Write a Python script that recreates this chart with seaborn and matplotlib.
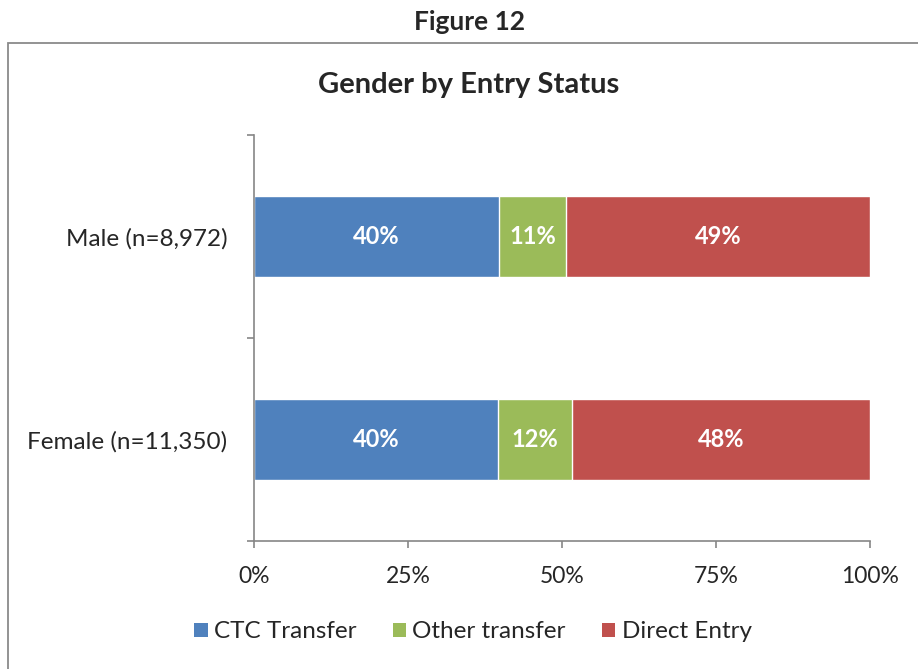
import matplotlib
matplotlib.use("Agg")
import matplotlib.pyplot as plt
import seaborn as sns
import pandas as pd
from matplotlib.patches import Patch, Rectangle

# data (percent of each gender)
groups = ["Male (n=8,972)", "Female (n=11,350)"]
ctc_transfer = [39.8, 39.6]
other_transfer = [10.8, 12.0]
direct_entry = [49.4, 48.4]
series_names = ["CTC Transfer", "Other transfer", "Direct Entry"]
x_ticks = [0, 0.25, 0.5, 0.75, 1.0]
x_tick_labels = ["0%", "25%", "50%", "75%", "100%"]

colors = ["#4F81BD", "#9BBB59", "#C0504D"]
axis_grey = "#868686"

sns.set_theme(style="white")
plt.rcParams['font.family'] = ['Lato', 'DejaVu Sans']

df = pd.DataFrame({
    "group": groups,
    "ctc": ctc_transfer,
    "other": other_transfer,
    "direct": direct_entry,
})
df["end_ctc"] = df["ctc"] / 100
df["end_other"] = (df["ctc"] + df["other"]) / 100
df["end_direct"] = (df["ctc"] + df["other"] + df["direct"]) / 100

fig = plt.figure(figsize=(9.18, 6.69), dpi=100)
ax = fig.add_axes([254 / 918, 1 - 541 / 669, (870 - 254) / 918, (541 - 135) / 669])

# stacked bars by over-drawing cumulative totals, back to front
for col, c in zip(["end_direct", "end_other", "end_ctc"], colors[::-1]):
    sns.barplot(data=df, x=col, y="group", orient="h", color=c, saturation=1,
                width=0.4, edgecolor="white", linewidth=1, ax=ax)

# value labels in the middle of each segment
for i in range(len(groups)):
    start = 0.0
    for vals in (ctc_transfer, other_transfer, direct_entry):
        v = vals[i] / 100
        ax.text(start + v / 2, i, f"{round(vals[i])}%", ha="center", va="center",
                color="white", fontsize=17, fontweight="bold")
        start += v

ax.set_xlim(0, 1)
ax.set_ylim(1.5, -0.5)
ax.set_xticks(x_ticks)
ax.set_xticklabels(x_tick_labels)
ax.set_xlabel("")
ax.set_ylabel("")
ax.set_yticks([-0.5, 0.5, 1.5], minor=True)

for side in ["top", "right"]:
    ax.spines[side].set_visible(False)
for side in ["left", "bottom"]:
    ax.spines[side].set_color(axis_grey)
    ax.spines[side].set_linewidth(1.2)

ax.tick_params(axis="x", which="major", direction="out", length=5, width=1.2,
               color=axis_grey, labelsize=16.5, pad=13, bottom=True)
ax.tick_params(axis="y", which="major", length=0, labelsize=17.5, pad=19)
ax.tick_params(axis="y", which="minor", direction="out", length=5, width=1.2,
               color=axis_grey, left=True)

# legend below the plot
handles = [Patch(facecolor=c, edgecolor="none") for c in colors]
fig.legend(handles, series_names, loc="center", bbox_to_anchor=(473 / 918, 1 - 632 / 669),
           ncol=3, frameon=False, fontsize=17.5, handlelength=0.55, handleheight=0.55,
           handletextpad=0.25, columnspacing=1.5)

# chart frame and titles
fig.patches.append(Rectangle((8 / 918, -0.05), 1.2, 1 - 43 / 669 + 0.05,
                             transform=fig.transFigure, fill=False,
                             edgecolor="#8a8a8a", linewidth=1.3))
fig.text(470 / 918, 1 - 22 / 669, "Figure 12", ha="center", va="center",
         fontsize=19, fontweight="bold")
fig.text(469 / 918, 1 - 85 / 669, "Gender by Entry Status", ha="center", va="center",
         fontsize=21, fontweight="bold")

fig.savefig("out.png", dpi=100)
plt.close(fig)
